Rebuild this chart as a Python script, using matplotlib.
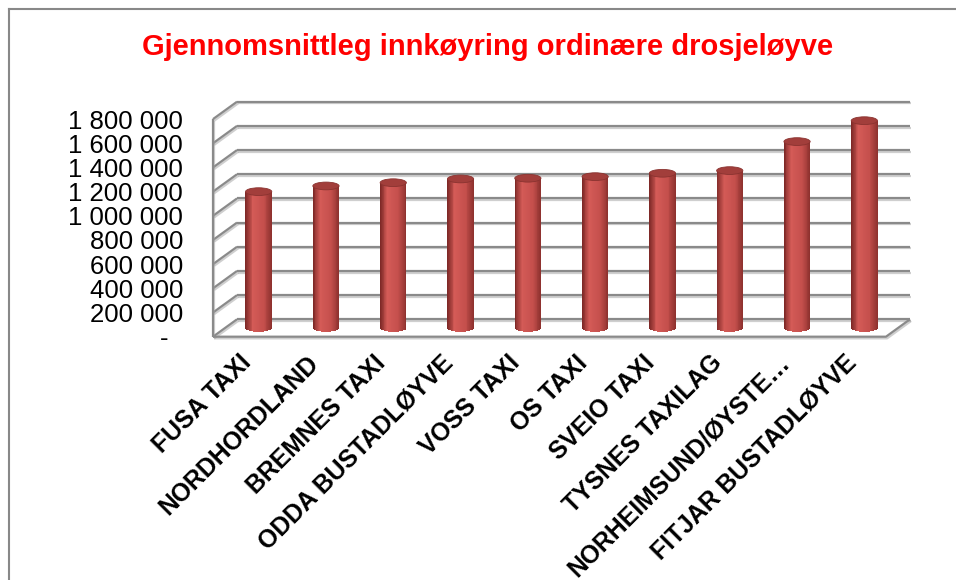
import numpy as np
import matplotlib.pyplot as plt
import matplotlib.patheffects as pe
import matplotlib.transforms as mtransforms
from matplotlib.patches import Ellipse
from matplotlib.lines import Line2D
from matplotlib.colors import LinearSegmentedColormap

plt.rcParams['font.family'] = ['Liberation Sans', 'DejaVu Sans']

# ----- Data ----- #
categories = ["FUSA TAXI", "NORDHORDLAND", "BREMNES TAXI", "ODDA BUSTADLØYVE",
              "VOSS TAXI", "OS TAXI", "SVEIO TAXI", "TYSNES TAXILAG",
              "NORHEIMSUND/ØYSTE…", "FITJAR BUSTADLØYVE"]
values = [1128000, 1175000, 1202000, 1233000, 1239000,
          1252000, 1280000, 1302000, 1542000, 1715000]
yticks = np.arange(0, 1800001, 200000)
ytick_labels = ["-  " if v == 0 else f"{v:,}".replace(",", " ") for v in yticks]
title = "Gjennomsnittleg innkøyring ordinære drosjeløyve"

# ----- 3D look: depth offset in data units (front plane -> back wall) ----- #
dx = 0.357
dy = 143900
ymax = yticks[-1]
n = len(categories)

fig = plt.figure(figsize=(9.56, 5.8), dpi=100)
ax = fig.add_axes([213/956, (580-336.7)/580, 697/956, 235/580])
ax.set_xlim(-0.5, n - 0.5 + dx)
ax.set_ylim(0, ymax + dy)
for s in ax.spines.values():
    s.set_visible(False)

grid_kw = dict(color='#8a8a8a', lw=1.6, solid_capstyle='butt', clip_on=False,
               path_effects=[pe.SimpleLineShadow(offset=(0.8, -1.2), shadow_color='#a0a0a0', alpha=0.5),
                             pe.Normal()])
for v in yticks:
    ax.plot([-0.5 + dx, n - 0.5 + dx], [v + dy, v + dy], **grid_kw)  # back wall
    ax.plot([-0.5, -0.5 + dx], [v, v + dy], **grid_kw)  # side wall
ax.plot([-0.5, -0.5], [0, ymax], **grid_kw)
ax.plot([-0.5, n - 0.5, n - 0.5 + dx], [0, 0, dy], **grid_kw)  # floor edge

# ----- Cylinders ----- #
cyl = LinearSegmentedColormap.from_list('cyl', [(0, '#7a2624'), (0.28, '#d45b57'),
                                                (0.7, '#c44f4c'), (1, '#8c302d')])
bw = 0.39
eh = 64000
base = dy / 2
xc = np.arange(n) + dx / 2
strips = 30
for k in range(strips):
    u = -1 + (2*k + 1) / strips
    bot = base - eh/2 * np.sqrt(1 - u**2)
    ax.bar(xc + u*bw/2, np.array(values) + base - bot, width=bw/strips*1.15,
           bottom=bot, color=cyl((u + 1) / 2), linewidth=0, zorder=3)
for x, v in zip(xc, values):
    ax.add_patch(Ellipse((x, base + v), bw, eh, facecolor='#a23e3b',
                         edgecolor='#8a3330', lw=0.6, zorder=4))

# ----- Axes labels ----- #
ax.set_yticks(yticks, ytick_labels)
ax.tick_params(axis='y', length=0, pad=21.6, labelsize=18.5)
ax.set_xticks(range(n), categories, rotation=45, ha='right', va='top',
              rotation_mode='anchor', fontweight='bold', fontsize=17.8)
ax.tick_params(axis='x', length=0, pad=10)
shift = mtransforms.ScaledTranslation(-0.08, 0, fig.dpi_scale_trans)
for lbl in ax.get_xticklabels():
    lbl.set_transform(lbl.get_transform() + shift)

fig.text(0.51, 1 - 47/580, title, ha='center', va='center', color='#ff0000',
         fontsize=21, fontweight='bold')

# chart frame
fig.add_artist(Line2D([8.5/956, 8.5/956], [0, 1 - 8.5/580], color='#888888', lw=1.5))
fig.add_artist(Line2D([8.5/956, 1], [1 - 8.5/580, 1 - 8.5/580], color='#888888', lw=1.5))

fig.savefig('out.png', dpi=100)
